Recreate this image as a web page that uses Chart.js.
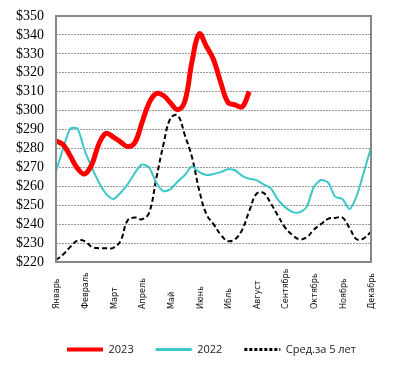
<!DOCTYPE html>
<html>
<head>
<meta charset="utf-8">
<script src="https://cdn.jsdelivr.net/npm/chart.js@4"></script>
<style>
html, body { margin: 0; padding: 0; background: #fff; }
#wrap { width: 407px; height: 375px; }
</style>
</head>
<body>
<div id="wrap"><canvas id="grafico"></canvas></div>
<script>
// meses no eixo X, 4 pontos por mes
var meses = ['Январь', 'Февраль', 'Март', 'Апрель', 'Май', 'Июнь', 'Ибль', 'Август', 'Сентябрь', 'Октябрь', 'Ноябрь', 'Декабрь'];
var pontosPorMes = 4;

var dados2023 = [284, 282, 276, 269.5, 266.5, 271.5, 282.5, 288, 286, 283.5, 281, 283, 293.5, 304, 309, 308, 304, 300.5, 305, 326, 340.5, 334, 327, 315, 304.5, 303, 302, 310];

var dados2022 = [268, 280, 290.5, 290.5, 279, 270, 262, 256, 253.3, 256.5, 261, 267, 271.5, 270, 262, 257.5, 258.5, 262.5, 266, 270.5, 267.5, 266, 266.5, 267.5, 269, 268.5, 265.5, 264, 263.3, 261, 259, 253, 249, 246.5, 246.2, 249, 259.5, 263.3, 262, 254.5, 253.3, 248, 255, 267.5, 280.5];

var media5 = [221, 224, 228, 231.3, 231, 228, 227.3, 227.3, 227.5, 231, 242, 243.5, 242.6, 246, 264, 282, 296, 297.5, 287, 275.3, 258, 245.3, 240, 234.5, 231.1, 232, 237, 247, 256, 256.5, 251, 244.5, 238.2, 234.3, 232, 233, 237, 240, 242.8, 243.3, 243.5, 238, 232, 232.5, 236];

var eixoYMin = 220, eixoYMax = 350, eixoYPasso = 10;

var rotulos = [];
for (var i = 0; i < (meses.length - 1) * pontosPorMes + 1; i++) {
    rotulos.push(i % pontosPorMes === 0 ? meses[i / pontosPorMes] : '');
}

// moldura cinza em volta da area do grafico
var moldura = {
    id: 'moldura',
    afterDraw: function(chart) {
        var a = chart.chartArea, ctx = chart.ctx;
        ctx.save();
        ctx.strokeStyle = '#878787';
        ctx.lineWidth = 2;
        ctx.strokeRect(a.left, a.top, a.right - a.left, a.bottom - a.top);
        ctx.restore();
    }
};

// rotulos dos meses, verticais, alinhados por baixo
var rotuloMeses = {
    id: 'rotuloMeses',
    afterDraw: function(chart) {
        var ctx = chart.ctx, x = chart.scales.x, a = chart.chartArea;
        ctx.save();
        ctx.font = '9px "Liberation Sans Narrow", "DejaVu Sans Condensed", "Liberation Sans", sans-serif';
        ctx.fillStyle = '#111';
        ctx.textAlign = 'left';
        ctx.textBaseline = 'middle';
        meses.forEach(function(m, i) {
            var px = x.getPixelForValue(i * pontosPorMes);
            ctx.save();
            ctx.translate(px + 1, a.bottom + 47);
            ctx.rotate(-Math.PI / 2);
            ctx.fillText(m, 0, 0);
            ctx.restore();
        });
        ctx.restore();
    }
};

var ctx = document.getElementById('grafico').getContext('2d');
var chart = new Chart(ctx, {
    type: 'line',
    data: {
        labels: rotulos,
        datasets: [{
            label: '2023',
            data: dados2023,
            borderColor: '#ff0000',
            backgroundColor: '#ff0000',
            borderWidth: 5,
            tension: 0.4,
            pointRadius: 0
        }, {
            label: '2022',
            data: dados2022,
            borderColor: '#3cc8c8',
            backgroundColor: '#3cc8c8',
            borderWidth: 2,
            tension: 0.25,
            pointRadius: 0
        }, {
            label: 'Сред.за 5 лет',
            data: media5,
            borderColor: '#000000',
            backgroundColor: '#000000',
            borderWidth: 2,
            borderDash: [5, 3],
            tension: 0.4,
            pointRadius: 0
        }]
    },
    options: {
        responsive: true,
        maintainAspectRatio: false,
        animation: false,
        layout: { padding: { top: 16, right: 0, bottom: 10, left: 16 } },
        plugins: {
            tooltip: { enabled: false },
            legend: {
                position: 'bottom',
                labels: {
                    usePointStyle: true,
                    pointStyle: 'line',
                    pointStyleWidth: 36,
                    padding: 22,
                    color: '#222',
                    font: { family: '"Open Sans", sans-serif', size: 11 },
                    // tracejado da legenda vem do dataset
                    generateLabels: function(chart) {
                        var itens = Chart.defaults.plugins.legend.labels.generateLabels(chart);
                        itens.forEach(function(it) {
                            var ds = chart.data.datasets[it.datasetIndex];
                            it.lineDash = ds.borderDash ? [3, 2] : [];
                            it.lineWidth = ds.borderWidth > 2 ? 4 : 3;
                        });
                        return itens;
                    }
                }
            }
        },
        scales: {
            x: {
                grid: { display: false },
                border: { display: false },
                ticks: { display: false, autoSkip: false },
                afterFit: function(scale) { scale.height = 60; }
            },
            y: {
                min: eixoYMin,
                max: eixoYMax,
                border: { display: false, dash: [2, 1] },
                grid: { color: '#9a9a9a', lineWidth: 1, drawTicks: false },
                ticks: {
                    stepSize: eixoYPasso,
                    autoSkip: false,
                    padding: 0,
                    crossAlign: 'far',
                    color: '#000',
                    font: { family: '"Liberation Serif", "Times New Roman", serif', size: 14 },
                    callback: function(v) { return '$' + v; }
                },
                afterFit: function(scale) { scale.width = 40; }
            },
            // eixo vazio so para reservar a margem direita
            y2: {
                position: 'right',
                min: eixoYMin,
                max: eixoYMax,
                grid: { display: false },
                border: { display: false },
                ticks: { display: false },
                afterFit: function(scale) { scale.width = 36; }
            }
        }
    },
    plugins: [moldura, rotuloMeses]
});
</script>
</body>
</html>
